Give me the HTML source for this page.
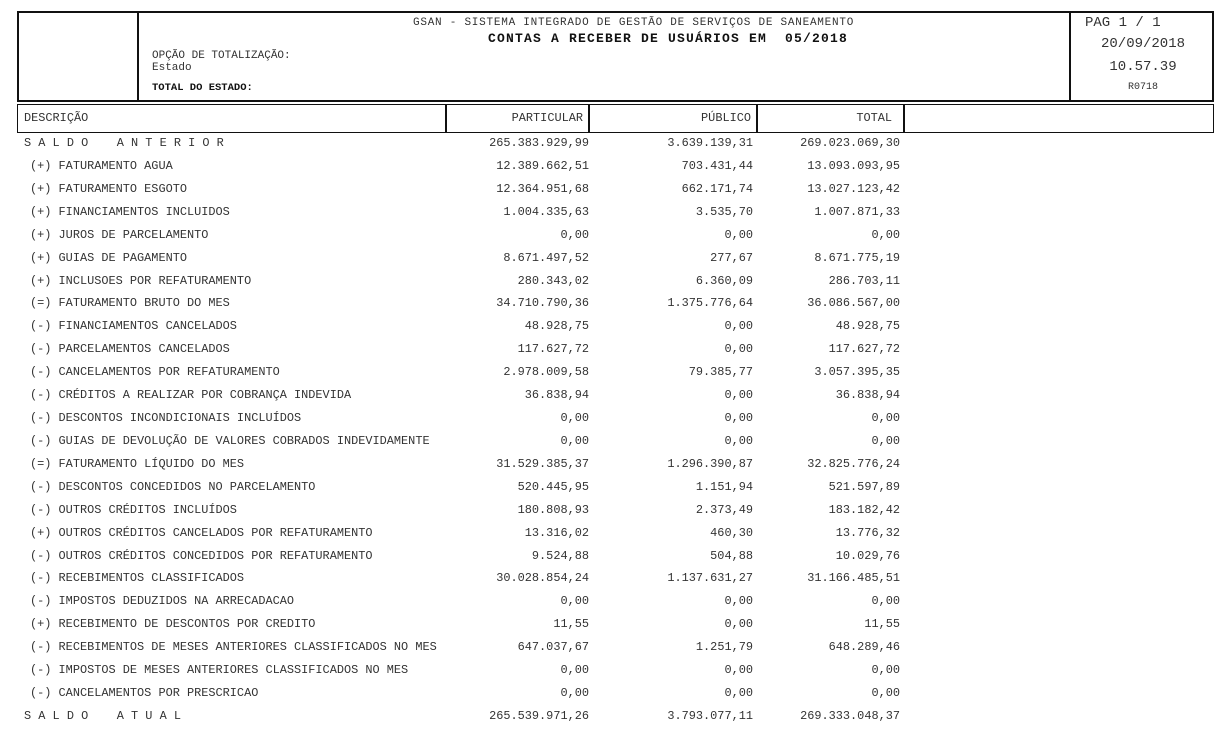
<!DOCTYPE html>
<html><head><meta charset="utf-8"><style>
body{margin:0;width:1220px;height:755px;background:#fff;position:relative;overflow:hidden;font-family:"Liberation Mono","DejaVu Sans Mono","Courier New",Courier,monospace;color:#333;}
.a{position:absolute;white-space:pre;font-size:11.9px;line-height:14px;font-family:"Liberation Mono","DejaVu Sans Mono","Courier New",Courier,monospace;}
.r{text-align:right;}
.box{position:absolute;border:2px solid #111;box-sizing:border-box;}
.vl{position:absolute;background:#111;}
</style></head><body>
<div class="box" style="left:17px;top:11px;width:1197px;height:91px;"></div>
<div class="vl" style="left:137px;top:11px;width:2px;height:91px;"></div>
<div class="vl" style="left:1069px;top:11px;width:2px;height:91px;"></div>
<div class="a" style="left:413px;top:16px;font-size:11px;letter-spacing:0.75px;">GSAN - SISTEMA INTEGRADO DE GESTÃO DE SERVIÇOS DE SANEAMENTO</div>
<div class="a" style="left:488px;top:32px;font-size:13px;font-weight:bold;letter-spacing:1.2px;color:#111;">CONTAS A RECEBER DE USUÁRIOS EM  05/2018</div>
<div class="a" style="left:152px;top:49px;font-size:11px;">OPÇÃO DE TOTALIZAÇÃO:</div>
<div class="a" style="left:152px;top:61px;font-size:11px;">Estado</div>
<div class="a" style="left:152px;top:81px;font-size:10.5px;font-weight:bold;color:#111;">TOTAL DO ESTADO:</div>
<div class="a" style="left:1085px;top:15px;font-size:14px;line-height:16px;">PAG 1 / 1</div>
<div class="a" style="left:1072px;width:142px;text-align:center;top:36px;font-size:14px;line-height:16px;">20/09/2018</div>
<div class="a" style="left:1072px;width:142px;text-align:center;top:59px;font-size:14px;line-height:16px;">10.57.39</div>
<div class="a" style="left:1072px;width:142px;text-align:center;top:81px;font-size:10px;">R0718</div>
<div class="box" style="left:17px;top:104px;width:1197px;height:29px;border-width:1.5px;"></div>
<div class="vl" style="left:445px;top:104px;width:2px;height:29px;"></div>
<div class="vl" style="left:588px;top:104px;width:2px;height:29px;"></div>
<div class="vl" style="left:756px;top:104px;width:2px;height:29px;"></div>
<div class="vl" style="left:903px;top:104px;width:2px;height:29px;"></div>
<div class="a" style="left:24px;top:111px;">DESCRIÇÃO</div>
<div class="a r" style="left:446px;width:137px;top:111px;">PARTICULAR</div>
<div class="a r" style="left:590px;width:161px;top:111px;">PÚBLICO</div>
<div class="a r" style="left:758px;width:134px;top:111px;">TOTAL</div>
<div id="rows"></div>
<script>
var d=[
["S A L D O    A N T E R I O R","265.383.929,99","3.639.139,31","269.023.069,30",1],
["(+) FATURAMENTO AGUA","12.389.662,51","703.431,44","13.093.093,95"],
["(+) FATURAMENTO ESGOTO","12.364.951,68","662.171,74","13.027.123,42"],
["(+) FINANCIAMENTOS INCLUIDOS","1.004.335,63","3.535,70","1.007.871,33"],
["(+) JUROS DE PARCELAMENTO","0,00","0,00","0,00"],
["(+) GUIAS DE PAGAMENTO","8.671.497,52","277,67","8.671.775,19"],
["(+) INCLUSOES POR REFATURAMENTO","280.343,02","6.360,09","286.703,11"],
["(=) FATURAMENTO BRUTO DO MES","34.710.790,36","1.375.776,64","36.086.567,00"],
["(-) FINANCIAMENTOS CANCELADOS","48.928,75","0,00","48.928,75"],
["(-) PARCELAMENTOS CANCELADOS","117.627,72","0,00","117.627,72"],
["(-) CANCELAMENTOS POR REFATURAMENTO","2.978.009,58","79.385,77","3.057.395,35"],
["(-) CRÉDITOS A REALIZAR POR COBRANÇA INDEVIDA","36.838,94","0,00","36.838,94"],
["(-) DESCONTOS INCONDICIONAIS INCLUÍDOS","0,00","0,00","0,00"],
["(-) GUIAS DE DEVOLUÇÃO DE VALORES COBRADOS INDEVIDAMENTE","0,00","0,00","0,00"],
["(=) FATURAMENTO LÍQUIDO DO MES","31.529.385,37","1.296.390,87","32.825.776,24"],
["(-) DESCONTOS CONCEDIDOS NO PARCELAMENTO","520.445,95","1.151,94","521.597,89"],
["(-) OUTROS CRÉDITOS INCLUÍDOS","180.808,93","2.373,49","183.182,42"],
["(+) OUTROS CRÉDITOS CANCELADOS POR REFATURAMENTO","13.316,02","460,30","13.776,32"],
["(-) OUTROS CRÉDITOS CONCEDIDOS POR REFATURAMENTO","9.524,88","504,88","10.029,76"],
["(-) RECEBIMENTOS CLASSIFICADOS","30.028.854,24","1.137.631,27","31.166.485,51"],
["(-) IMPOSTOS DEDUZIDOS NA ARRECADACAO","0,00","0,00","0,00"],
["(+) RECEBIMENTO DE DESCONTOS POR CREDITO","11,55","0,00","11,55"],
["(-) RECEBIMENTOS DE MESES ANTERIORES CLASSIFICADOS NO MES","647.037,67","1.251,79","648.289,46"],
["(-) IMPOSTOS DE MESES ANTERIORES CLASSIFICADOS NO MES","0,00","0,00","0,00"],
["(-) CANCELAMENTOS POR PRESCRICAO","0,00","0,00","0,00"],
["S A L D O    A T U A L","265.539.971,26","3.793.077,11","269.333.048,37",1]];
var h="";
d.forEach(function(r,i){var t=136+i*22.92;var x=r[4]?24:30;
h+='<div class="a" style="left:'+x+'px;top:'+t+'px">'+r[0]+'</div>';
h+='<div class="a r" style="left:400px;width:189px;top:'+t+'px">'+r[1]+'</div>';
h+='<div class="a r" style="left:560px;width:193px;top:'+t+'px">'+r[2]+'</div>';
h+='<div class="a r" style="left:700px;width:200px;top:'+t+'px">'+r[3]+'</div>';});
document.getElementById("rows").innerHTML=h;
</script>
</body></html>
